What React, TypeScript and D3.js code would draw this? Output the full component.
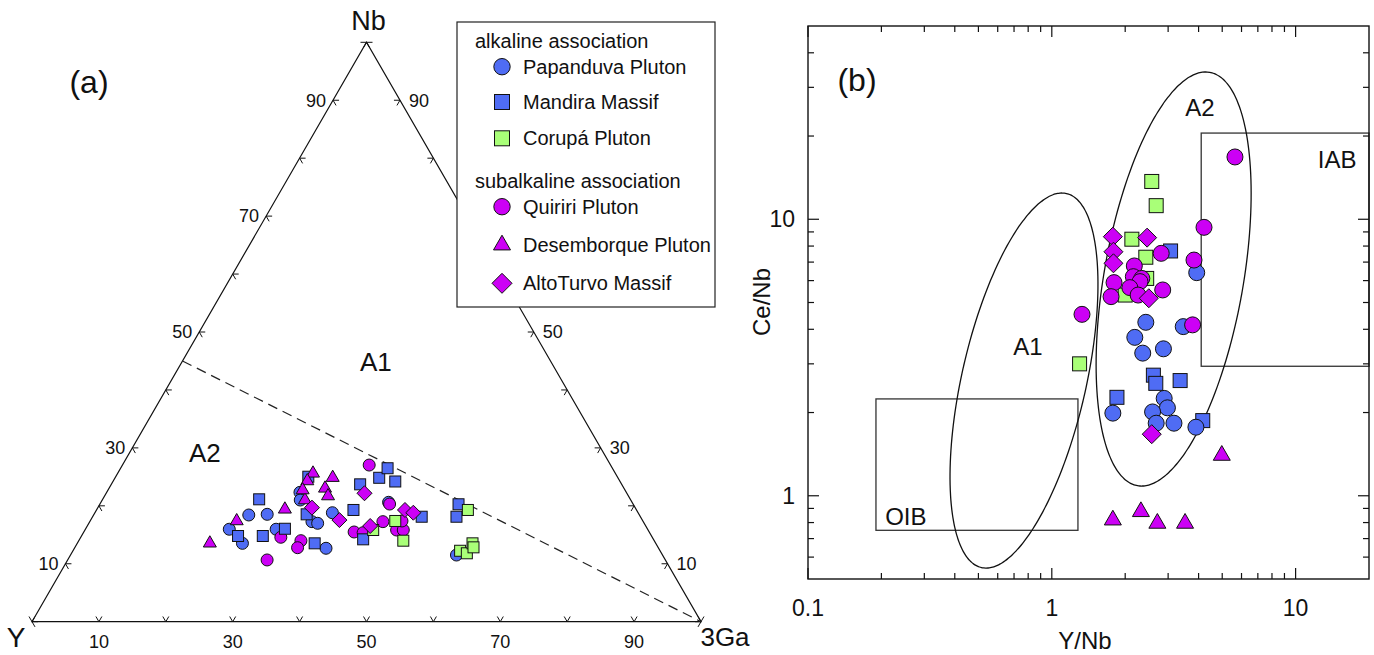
import React from 'react';
import * as d3 from 'd3';

const FONT = '"Liberation Sans", Arial, Helvetica, sans-serif';

// ---------- Panel (a): ternary Y – Nb – 3Ga, values as [Y, Nb, 3Ga] ----------
const papanduvaTernary = [
  [62.5, 15.95, 21.5], [61.8, 13.53, 24.7], [58.4, 18.42, 23.2], [55.6, 18.54, 25.9],
  [55.5, 15.95, 28.5], [48.8, 22.33, 28.9], [49.4, 21.0, 29.6], [49.5, 17.26, 33.2],
  [48.8, 16.98, 34.2], [45.7, 18.81, 35.5], [49.7, 12.67, 37.6], [36.4, 20.61, 43.0],
  [30.8, 11.51, 57.7],
];
const mandiraTernary = [
  [55.5, 21.13, 23.4], [61.8, 14.79, 23.4], [58.1, 14.79, 27.1], [54.2, 16.05, 29.8],
  [51.0, 13.53, 35.5], [46.2, 25.03, 28.8], [49.7, 18.54, 31.8], [39.1, 23.71, 37.2],
  [35.7, 24.85, 39.5], [33.6, 26.48, 39.9], [33.6, 24.2, 42.2], [42.3, 19.28, 38.4],
  [43.4, 14.22, 42.4], [32.7, 18.12, 49.2], [26.1, 20.26, 53.6], [27.5, 18.12, 54.4],
];
const corupaTernary = [
  [37.0, 17.38, 45.6], [41.1, 15.83, 43.1], [37.5, 13.98, 48.5], [25.2, 19.28, 55.5],
  [29.9, 12.25, 57.9], [29.1, 11.81, 59.1], [27.4, 13.53, 59.1], [27.6, 12.84, 59.6],
];
const quiririTernary = [
  [36.1, 27.05, 36.9], [36.4, 20.31, 43.3], [59.5, 10.65, 29.8], [55.5, 14.57, 29.9],
  [52.8, 13.98, 33.2], [53.9, 12.77, 33.3], [44.1, 15.48, 40.4], [42.8, 15.36, 41.8],
  [38.9, 17.26, 43.8], [37.6, 15.83, 46.6], [36.6, 15.83, 47.6], [36.0, 17.38, 46.6],
];
const desemborqueTernary = [
  [66.6, 13.53, 19.8], [60.7, 17.38, 21.9], [52.5, 19.4, 28.1], [45.2, 25.61, 29.2],
  [46.7, 24.28, 29.0], [42.6, 24.85, 32.5], [44.7, 23.02, 32.3], [44.9, 21.69, 33.4],
  [48.7, 21.0, 30.3], [48.2, 22.73, 29.1],
];
const altoTurvoTernary = [
  [39.2, 22.16, 38.6], [48.3, 19.68, 32.0], [45.3, 17.55, 37.2], [41.2, 16.52, 42.3],
  [34.6, 19.28, 46.1], [33.6, 18.81, 47.6],
];
// A1/A2 boundary, [Y, Nb, 3Ga]
const a1a2Boundary = [[55, 45, 0], [0, 0, 100]];
const ternaryTicks = [0, 10, 20, 30, 40, 50, 60, 70, 80, 90, 100];
const ternaryTickLabels = [10, 30, 50, 70, 90];
const ternaryFieldLabels = [
  { text: 'A1', v: [26.2, 44.8, 29.0] },
  { text: 'A2', v: [59.6, 29.1, 11.3] },
];

// ---------- Panel (b): Y/Nb vs Ce/Nb, values as [Y/Nb, Ce/Nb] ----------
const papanduvaRatio = [
  [3.93, 6.41], [2.43, 4.24], [2.19, 3.74], [2.87, 3.40], [2.36, 3.28], [3.46, 4.09],
  [2.89, 2.25], [2.98, 2.08], [2.59, 2.01], [1.78, 1.99], [2.68, 1.83], [3.17, 1.83],
  [3.90, 1.77],
];
const mandiraRatio = [
  [3.07, 7.68], [2.61, 2.73], [2.67, 2.55], [3.36, 2.61], [1.85, 2.27], [4.16, 1.87],
];
const corupaRatio = [
  [2.57, 13.7], [2.68, 11.2], [2.13, 8.47], [2.43, 7.29], [2.45, 6.11], [2.0, 5.32], [1.30, 3.0],
];
const quiririRatio = [
  [2.81, 7.53], [2.18, 6.78], [2.16, 6.20], [2.34, 6.11], [1.80, 5.90], [2.30, 5.95],
  [2.09, 5.66], [2.85, 5.55], [1.75, 5.25], [2.26, 5.32], [1.33, 4.53], [4.21, 9.35],
  [3.83, 7.12], [3.78, 4.15], [5.64, 16.8],
];
const desemborqueRatio = [
  [4.98, 1.40], [1.78, 0.817], [2.32, 0.876], [2.71, 0.795], [3.52, 0.795],
];
const altoTurvoRatio = [
  [1.78, 8.65], [2.46, 8.58], [1.79, 7.63], [1.79, 6.93], [2.50, 5.18], [2.57, 1.67],
];
const xMajorTicks = [0.1, 1, 10];
const xMinorTicks = [0.2, 0.3, 0.4, 0.5, 0.6, 0.7, 0.8, 0.9, 2, 3, 4, 5, 6, 7, 8, 9];
const yMajorTicks = [1, 10];
const yMinorTicks = [0.6, 0.7, 0.8, 0.9, 2, 3, 4, 5, 6, 7, 8, 9, 20, 30, 40];
// fields: boxes in data units, ellipses with centre in data units
const boxFields = [
  { name: 'OIB', x0: 0.19, x1: 1.28, y0: 0.75, y1: 2.24, lx: 0.252, ly: 0.838 },
  { name: 'IAB', x0: 4.1, x1: 20, y0: 2.94, y1: 20.5, lx: 14.8, ly: 16.4 },
];
const ellipseFields = [
  { name: 'A1', cx: 0.769, cy: 2.61, a: 191.8, b: 62.1, tilt: 12.8, lx: 0.798, ly: 3.45 },
  { name: 'A2', cx: 3.16, cy: 6.08, a: 209.8, b: 69.65, tilt: 9.9, lx: 4.05, ly: 25.3 },
];

// ---------- Series ----------
const seriesNames = ['Papanduva Pluton', 'Mandira Massif', 'Corupá Pluton', 'Quiriri Pluton', 'Desemborque Pluton', 'AltoTurvo Massif'];
const seriesColors = ['#4f6cf4', '#4f6cf4', '#a9ff78', '#cc00f5', '#cc00f5', '#cc00f5'];
const seriesShapes = ['circle', 'square', 'square', 'circle', 'triangle', 'diamond'];
const ternaryData = [papanduvaTernary, mandiraTernary, corupaTernary, quiririTernary, desemborqueTernary, altoTurvoTernary];
const ratioData = [papanduvaRatio, mandiraRatio, corupaRatio, quiririRatio, desemborqueRatio, altoTurvoRatio];
const ternaryDrawOrder = [0, 3, 1, 2, 4, 5];
const ratioDrawOrder = [1, 2, 0, 3, 4, 5];

type Sizes = { circle: number; square: number; triangle: number; diamond: number };
const sizeA: Sizes = { circle: 6, square: 5.5, triangle: 6.5, diamond: 7.5 };
const sizeB: Sizes = { circle: 8, square: 7, triangle: 8.5, diamond: 9.5 };
const sizeL: Sizes = { circle: 8.2, square: 7.5, triangle: 8.5, diamond: 10 };

function Marker({ shape, x, y, fill, sizes }: { shape: string; x: number; y: number; fill: string; sizes: Sizes }) {
  const st = { fill, stroke: '#111', strokeWidth: 1 };
  if (shape === 'circle') return <circle cx={x} cy={y} r={sizes.circle} {...st} />;
  if (shape === 'square') {
    const r = sizes.square;
    return <rect x={x - r} y={y - r} width={2 * r} height={2 * r} {...st} />;
  }
  if (shape === 'triangle') {
    const s = sizes.triangle * 2;
    const h = s * 0.866;
    const d = `M${x},${y - (2 * h) / 3}L${x + s / 2},${y + h / 3}L${x - s / 2},${y + h / 3}Z`;
    return <path d={d} {...st} />;
  }
  const r = sizes.diamond;
  return <path d={`M${x},${y - r}L${x + r},${y}L${x},${y + r}L${x - r},${y}Z`} {...st} />;
}

export default function App() {
  // ternary scales
  const tx = d3.scaleLinear().domain([0, 100]).range([32, 701]);
  const ty = d3.scaleLinear().domain([0, 100]).range([621.7, 42.3]);
  const tern = (v: number[]) => {
    const s = v[0] + v[1] + v[2];
    const nb = (v[1] / s) * 100;
    const ga = (v[2] / s) * 100;
    return [tx(ga + nb / 2), ty(nb)];
  };
  const pY = tern([100, 0, 0]);
  const pNb = tern([0, 100, 0]);
  const pGa = tern([0, 0, 100]);
  const L = 6;
  const c60 = 0.5, s60 = 0.866;

  // ratio scales
  const xs = d3.scaleLog().domain([0.1, 20]).range([808, 1369]);
  const ys = d3.scaleLog().domain([0.5, 50]).range([579, 26]);
  const [bx0, bx1] = xs.range();
  const [by0, by1] = ys.range();

  const ellipsePath = (e: typeof ellipseFields[number]) => {
    const cx = xs(e.cx), cy = ys(e.cy);
    const phi = (e.tilt * Math.PI) / 180;
    const u = [Math.sin(phi), -Math.cos(phi)];
    const v = [Math.cos(phi), Math.sin(phi)];
    const pts = d3.range(0, 360, 2).map((deg) => {
      const t = (deg * Math.PI) / 180;
      return [cx + e.a * Math.cos(t) * u[0] + e.b * Math.sin(t) * v[0], cy + e.a * Math.cos(t) * u[1] + e.b * Math.sin(t) * v[1]] as [number, number];
    });
    return d3.line().curve(d3.curveCardinalClosed)(pts) || '';
  };

  const boundary = a1a2Boundary.map(tern);

  return (
    <svg width={1374} height={655} style={{ position: 'absolute', left: 0, top: 0, background: '#fff' }} fontFamily={FONT}>
      <rect x={0} y={0} width={1374} height={655} fill="#fff" />
      {/* ---------- Panel a ---------- */}
      <path d={`M${pY[0]},${pY[1]}L${pNb[0]},${pNb[1]}L${pGa[0]},${pGa[1]}Z`} fill="none" stroke="#111" strokeWidth={1.2} />
      {ternaryTicks.map((t) => {
        const l = tern([100 - t, t, 0]);
        const r = tern([0, t, 100 - t]);
        const b = tern([100 - t, 0, t]);
        return (
          <g key={'tt' + t} stroke="#111" strokeWidth={1} fill="none">
            <path d={`M${l[0] + L},${l[1]}L${l[0]},${l[1]}L${l[0] + L * c60},${l[1] + L * s60}`} />
            <path d={`M${r[0] - L},${r[1]}L${r[0]},${r[1]}L${r[0] - L * c60},${r[1] + L * s60}`} />
            <path d={`M${b[0] - L * c60},${b[1] - L * s60}L${b[0]},${b[1]}L${b[0] + L * c60},${b[1] - L * s60}`} />
          </g>
        );
      })}
      {ternaryTickLabels.map((t) => {
        const l = tern([100 - t, t, 0]);
        const r = tern([0, t, 100 - t]);
        const b = tern([100 - t, 0, t]);
        return (
          <g key={'tl' + t} fontSize={18} fill="#111">
            <text x={l[0] - 7} y={l[1]} dy="0.35em" textAnchor="end">{t}</text>
            <text x={r[0] + 9} y={r[1]} dy="0.35em" textAnchor="start">{t}</text>
            <text x={b[0]} y={b[1] + 26} textAnchor="middle">{t}</text>
          </g>
        );
      })}
      <text x={pNb[0] + 2} y={pNb[1] - 12} fontSize={27} textAnchor="middle" fill="#111">Nb</text>
      <text x={pY[0] - 16} y={pY[1] + 25} fontSize={28} textAnchor="middle" fill="#111">Y</text>
      <text x={pGa[0] + 24} y={pGa[1] + 24} fontSize={26} textAnchor="middle" fill="#111">3Ga</text>
      <text x={89} y={93} fontSize={32} textAnchor="middle" fill="#111">(a)</text>
      <path d={`M${boundary[0][0]},${boundary[0][1]}L${boundary[1][0]},${boundary[1][1]}`} stroke="#222" strokeWidth={1.2} strokeDasharray="10,6" fill="none" />
      {ternaryFieldLabels.map((f) => {
        const p = tern(f.v);
        return <text key={f.text} x={p[0]} y={p[1]} dy="0.35em" fontSize={26} textAnchor="middle" fill="#111">{f.text}</text>;
      })}
      {ternaryDrawOrder.map((si) => (
        <g key={'ts' + si}>
          {ternaryData[si].map((v, i) => {
            const p = tern(v);
            return <Marker key={i} shape={seriesShapes[si]} x={p[0]} y={p[1]} fill={seriesColors[si]} sizes={sizeA} />;
          })}
        </g>
      ))}

      {/* Legend */}
      <rect x={457} y={22} width={258} height={285} fill="#fff" stroke="#222" strokeWidth={1.2} />
      <g fontSize={20} fill="#111">
        <text x={475} y={48}>alkaline association</text>
        <text x={475} y={188}>subalkaline association</text>
        {seriesNames.map((n, i) => {
          const yy = [66.7, 102, 138.3, 206.7, 245, 283.3][i];
          return (
            <g key={'lg' + i}>
              <Marker shape={seriesShapes[i]} x={502} y={yy} fill={seriesColors[i]} sizes={sizeL} />
              <text x={523} y={yy} dy="0.35em">{n}</text>
            </g>
          );
        })}
      </g>

      {/* ---------- Panel b ---------- */}
      {boxFields.map((f) => (
        <g key={f.name}>
          <rect x={xs(f.x0)} y={ys(f.y1)} width={xs(f.x1) - xs(f.x0)} height={ys(f.y0) - ys(f.y1)} fill="none" stroke="#333" strokeWidth={1.3} />
          <text x={xs(f.lx)} y={ys(f.ly)} dy="0.35em" fontSize={24} textAnchor="middle" fill="#111">{f.name}</text>
        </g>
      ))}
      {ellipseFields.map((e) => (
        <g key={e.name}>
          <path d={ellipsePath(e)} fill="none" stroke="#111" strokeWidth={1.3} />
          <text x={xs(e.lx)} y={ys(e.ly)} dy="0.35em" fontSize={24} textAnchor="middle" fill="#111">{e.name}</text>
        </g>
      ))}
      <rect x={bx0} y={by1} width={bx1 - bx0} height={by0 - by1} fill="none" stroke="#111" strokeWidth={1.4} />
      <g stroke="#111" strokeWidth={1.2}>
        {xMajorTicks.map((t) => (
          <g key={'xM' + t}>
            <line x1={xs(t)} x2={xs(t)} y1={by0} y2={by0 - 11} />
            <line x1={xs(t)} x2={xs(t)} y1={by1} y2={by1 + 11} />
          </g>
        ))}
        {xMinorTicks.map((t) => (
          <g key={'xm' + t}>
            <line x1={xs(t)} x2={xs(t)} y1={by0} y2={by0 - 6} />
            <line x1={xs(t)} x2={xs(t)} y1={by1} y2={by1 + 6} />
          </g>
        ))}
        {yMajorTicks.map((t) => (
          <g key={'yM' + t}>
            <line x1={bx0} x2={bx0 + 11} y1={ys(t)} y2={ys(t)} />
            <line x1={bx1} x2={bx1 - 11} y1={ys(t)} y2={ys(t)} />
          </g>
        ))}
        {yMinorTicks.map((t) => (
          <g key={'ym' + t}>
            <line x1={bx0} x2={bx0 + 6} y1={ys(t)} y2={ys(t)} />
            <line x1={bx1} x2={bx1 - 6} y1={ys(t)} y2={ys(t)} />
          </g>
        ))}
      </g>
      <g fontSize={23} fill="#111">
        {xMajorTicks.map((t) => (
          <text key={'xl' + t} x={xs(t)} y={616} textAnchor="middle">{String(t)}</text>
        ))}
        {yMajorTicks.map((t) => (
          <text key={'yl' + t} x={bx0 - 13} y={ys(t)} dy="0.35em" textAnchor="end">{String(t)}</text>
        ))}
      </g>
      <text x={1085} y={649} fontSize={24} textAnchor="middle" fill="#111">Y/Nb</text>
      <text transform="translate(770,302) rotate(-90)" fontSize={24} textAnchor="middle" fill="#111">Ce/Nb</text>
      <text x={857} y={91} fontSize={32} textAnchor="middle" fill="#111">(b)</text>
      {ratioDrawOrder.map((si) => (
        <g key={'rs' + si}>
          {ratioData[si].map((v, i) => (
            <Marker key={i} shape={seriesShapes[si]} x={xs(v[0])} y={ys(v[1])} fill={seriesColors[si]} sizes={sizeB} />
          ))}
        </g>
      ))}
    </svg>
  );
}
